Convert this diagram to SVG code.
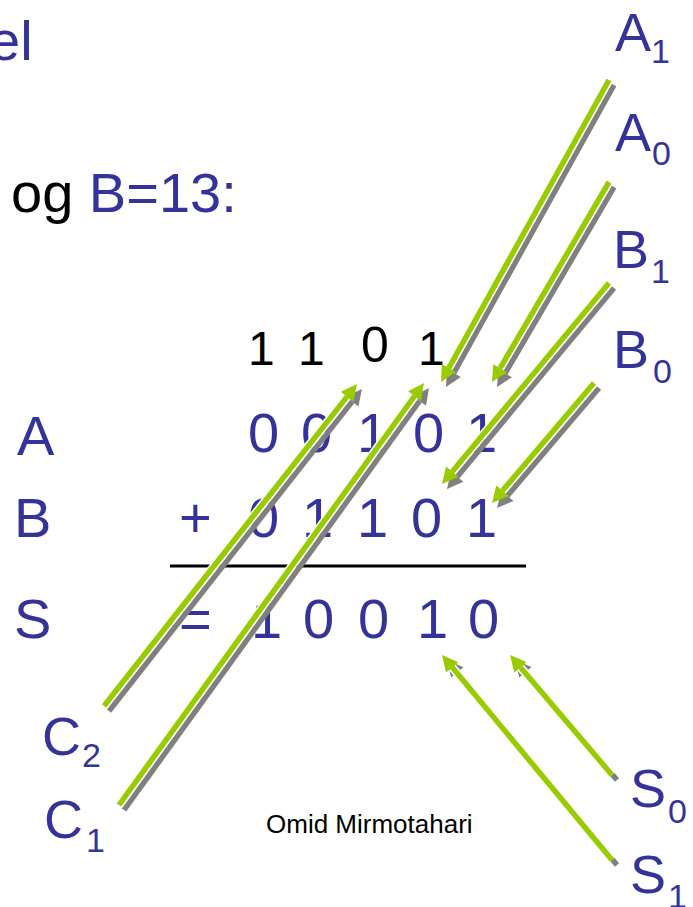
<svg xmlns="http://www.w3.org/2000/svg" xmlns:xlink="http://www.w3.org/1999/xlink" width="693" height="907" viewBox="0 0 693 907">
<style>
text{font-family:"Liberation Sans",Arial,sans-serif}
.b{fill:#333399}
.k{fill:#000}
.big{font-size:56px}
.lab{font-size:54px}
.sub{font-size:34px}
.shadow{stroke:#808080;stroke-width:5.5;fill:none;marker-end:url(#hg)}
.white{stroke:#fff;stroke-width:8.5;fill:none}
.green{stroke:#99CC00;stroke-width:5.5;fill:none;marker-end:url(#hgr)}
</style>
<defs>
<marker id="hgr" markerUnits="userSpaceOnUse" markerWidth="16" markerHeight="16" viewBox="0 0 16 16" refX="0" refY="8" orient="auto" overflow="visible"><path d="M0,0 L16,8 L0,16 z" fill="#99CC00"/></marker>
<marker id="hg" markerUnits="userSpaceOnUse" markerWidth="16" markerHeight="16" viewBox="0 0 16 16" refX="0" refY="8" orient="auto" overflow="visible"><path d="M0,0 L16,8 L0,16 z" fill="#808080"/></marker>
<line id="lA1" x1="609" y1="80" x2="448.8" y2="368"/>
<line id="lA0" x1="609" y1="182" x2="500.1" y2="368.2"/>
<line id="lB1" x1="609" y1="283" x2="452.2" y2="471.7"/>
<line id="lB0" x1="594" y1="383" x2="502.4" y2="490.8"/>
<line id="lC2" x1="104" y1="706" x2="347.1" y2="396.6"/>
<line id="lC1" x1="119" y1="805" x2="414.6" y2="396"/>
<line id="lS0" x1="612" y1="775" x2="520.4" y2="667.2"/>
<line id="lS1" x1="612" y1="860" x2="452.2" y2="667.3"/>
</defs>

<g id="title">
<text class="b big" x="-11" y="60">el</text>
<text class="k big" x="11" y="212">og <tspan class="b">B=13:</tspan></text>
</g>

<g id="carry">
<text class="k" font-size="48" x="248" y="365">1</text>
<text class="k" font-size="48" x="298" y="365">1</text>
<text class="k" font-size="50" x="361" y="362">0</text>
<text class="k" font-size="48" x="418" y="365">1</text>
</g>

<g id="rowA">
<text class="b big" x="17" y="455">A</text>
<text class="b big" x="248" y="452">0</text>
<text class="b big" x="301" y="452">0</text>
<text class="b big" x="357" y="452">1</text>
<text class="b big" x="413" y="452">0</text>
<text class="b big" x="466" y="452">1</text>
</g>

<g id="rowB">
<text class="b big" x="14" y="537">B</text>
<text class="b big" x="179" y="537">+</text>
<text class="b big" x="248" y="537">0</text>
<text class="b big" x="302" y="537">1</text>
<text class="b big" x="357" y="537">1</text>
<text class="b big" x="411" y="537">0</text>
<text class="b big" x="466" y="537">1</text>
</g>

<line id="sumline" x1="170" y1="566" x2="526" y2="566" stroke="#000" stroke-width="3"/>

<g id="rowS">
<text class="b big" x="14" y="638">S</text>
<text class="b big" x="179" y="638">=</text>
<text class="b big" x="251" y="638">1</text>
<text class="b big" x="303" y="638">0</text>
<text class="b big" x="358" y="638">0</text>
<text class="b big" x="417" y="638">1</text>
<text class="b big" x="468" y="638">0</text>
</g>

<g id="labels">
<g id="A1"><text class="b lab" x="615" y="51">A</text><text class="b sub" x="651" y="63">1</text></g>
<g id="A0"><text class="b lab" x="615" y="151">A</text><text class="b sub" x="652" y="165">0</text></g>
<g id="B1"><text class="b lab" x="613" y="268">B</text><text class="b sub" x="651" y="283">1</text></g>
<g id="B0"><text class="b lab" x="613" y="368">B</text><text class="b sub" x="653" y="383">0</text></g>
<g id="C2"><text class="b lab" x="42" y="755">C</text><text class="b sub" x="82" y="767">2</text></g>
<g id="C1"><text class="b lab" x="44" y="838">C</text><text class="b sub" x="86" y="852">1</text></g>
<g id="S0"><text class="b lab" x="630" y="807">S</text><text class="b sub" x="668" y="823">0</text></g>
<g id="S1"><text class="b lab" x="630" y="893">S</text><text class="b sub" x="668" y="908">1</text></g>
</g>

<g id="connectors">
<g transform="translate(5,5)" class="shadow">
<use xlink:href="#lA1"/><use xlink:href="#lA0"/><use xlink:href="#lB1"/><use xlink:href="#lB0"/>
<use xlink:href="#lC2"/><use xlink:href="#lC1"/><use xlink:href="#lS0"/><use xlink:href="#lS1"/>
</g>
<g class="white">
<use xlink:href="#lA1"/><use xlink:href="#lA0"/><use xlink:href="#lB1"/><use xlink:href="#lB0"/>
<use xlink:href="#lC2"/><use xlink:href="#lC1"/><use xlink:href="#lS0"/><use xlink:href="#lS1"/>
</g>
<g class="green">
<use xlink:href="#lA1"/><use xlink:href="#lA0"/><use xlink:href="#lB1"/><use xlink:href="#lB0"/>
<use xlink:href="#lC2"/><use xlink:href="#lC1"/><use xlink:href="#lS0"/><use xlink:href="#lS1"/>
</g>
</g>

<text id="author" class="k" font-size="26" x="266" y="833">Omid Mirmotahari</text>
</svg>
